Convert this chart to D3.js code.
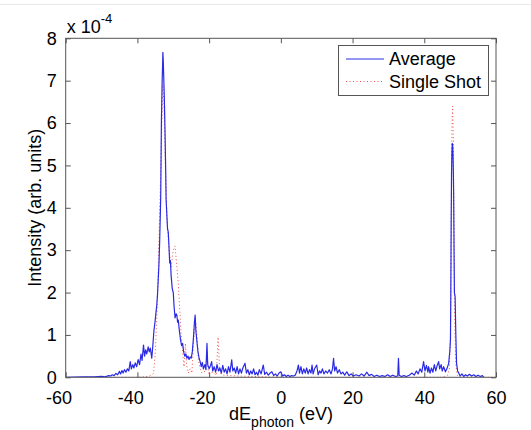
<!DOCTYPE html>
<html>
<head>
<meta charset="utf-8">
<script src="https://cdn.jsdelivr.net/npm/d3@7"></script>
<style>
  body { margin: 0; background: #fff; }
  svg { display: block; font-family: Arial, "Liberation Sans", Helvetica, sans-serif; }
</style>
</head>
<body>
<svg id="chart" width="531" height="430"></svg>
<script>
// photon energy offset (eV) and intensity (x 1e-4, arb. units)
const avgE = [-60, -55, -52, -50, -49, -48, -47.5, -47, -46.5, -46, -45.5, -45, -44.7, -44.3, -44, -43.6, -43.2, -42.8, -42.4, -42, -41.7, -41.3, -41, -40.6, -40.2, -39.8, -39.4, -39, -38.7, -38.3, -38, -37.7, -37.4, -37, -36.7, -36.4, -36, -35.7, -35.4, -35.1, -34.8, -34.6, -34.4, -34.2, -34, -33.8, -33.6, -33.5, -33.4, -33.3, -33.1, -33, -32.9, -32.8, -32.7, -32.5, -32.3, -32.1, -32, -31.8, -31.6, -31.4, -31.2, -31, -30.8, -30.6, -30.3, -30, -29.8, -29.5, -29.2, -29, -28.8, -28.6, -28.3, -28, -27.7, -27.4, -27.1, -26.8, -26.5, -26.2, -25.9, -25.6, -25.3, -25, -24.7, -24.4, -24.1, -23.9, -23.7, -23.4, -23.1, -22.8, -22.5, -22.2, -21.9, -21.6, -21.2, -20.9, -20.6, -20.4, -20, -19.6, -19.3, -19, -18.6, -18.2, -17.8, -17.4, -17, -16.6, -16.2, -15.8, -15.4, -15, -14.6, -14.2, -13.7, -13.4, -13, -12.6, -12.2, -11.8, -11.4, -11, -10.6, -10, -9.6, -9.2, -8.8, -8.4, -8, -7.6, -7.2, -6.8, -6.4, -6, -5.5, -4.9, -4.5, -4, -3.5, -3, -2.5, -2, -1.5, -1, -0.5, 0, 0.5, 1, 1.5, 2, 2.5, 3, 3.5, 4, 4.5, 4.9, 5.2, 5.6, 6, 6.4, 6.8, 7.2, 7.6, 8, 8.4, 8.7, 9, 9.4, 10, 10.4, 10.8, 11.2, 11.6, 12, 12.5, 13, 13.5, 14, 14.4, 14.7, 15, 15.4, 15.8, 16.3, 16.8, 17.3, 17.8, 18.4, 19, 19.6, 20.2, 21, 21.8, 22.5, 23.2, 24, 24.6, 25.3, 26, 26.8, 27.5, 28.3, 29, 29.8, 30.5, 31.2, 32, 32.6, 32.8, 33, 33.6, 34.3, 35, 35.8, 36.6, 37.2, 37.8, 38.3, 38.8, 39.3, 39.8, 40.2, 40.6, 41, 41.2, 41.6, 42, 42.4, 42.8, 43.2, 43.6, 44, 44.3, 44.7, 45, 45.4, 45.9, 46.3, 46.8, 47.1, 47.3, 47.4, 47.5, 47.6, 47.7, 47.8, 47.9, 48, 48.1, 48.2, 48.3, 48.4, 48.6, 48.8, 49, 49.3, 49.6, 50, 50.5, 51, 51.5, 52, 52.6, 53.2, 53.8, 54.4, 55, 55.6, 56.2, 56.6];
const avgI = [0, 0.01, 0.01, 0.02, 0.01, 0.04, 0.03, 0.06, 0.04, 0.09, 0.06, 0.14, 0.08, 0.16, 0.1, 0.18, 0.12, 0.2, 0.15, 0.37, 0.2, 0.3, 0.22, 0.34, 0.25, 0.42, 0.3, 0.55, 0.4, 0.76, 0.5, 0.65, 0.55, 0.72, 0.6, 0.69, 0.45, 0.75, 1.1, 1.3, 1.55, 1.7, 1.95, 2.3, 2.65, 3.2, 3.9, 4.3, 5.2, 6.1, 7.0, 7.3, 7.67, 7.5, 7.2, 6.6, 5.8, 4.8, 4.2, 3.85, 3.5, 3.43, 3.1, 2.7, 2.75, 2.4, 2.1, 2.0, 1.7, 1.4, 1.5, 1.47, 1.3, 1.35, 1.1, 0.9, 0.75, 0.8, 0.6, 0.5, 0.55, 0.45, 0.5, 0.42, 0.48, 0.45, 0.6, 0.9, 1.3, 1.47, 1.1, 0.84, 0.6, 0.45, 0.37, 0.25, 0.35, 0.2, 0.3, 0.18, 0.8, 0.3, 0.2, 0.28, 0.37, 0.15, 0.25, 0.12, 0.3, 0.15, 0.22, 0.1, 0.28, 0.12, 0.2, 0.08, 0.25, 0.12, 0.41, 0.15, 0.22, 0.1, 0.25, 0.08, 0.2, 0.1, 0.22, 0.33, 0.1, 0.18, 0.06, 0.15, 0.08, 0.2, 0.06, 0.12, 0.05, 0.18, 0.08, 0.29, 0.07, 0.12, 0.05, 0.1, 0.13, 0.04, 0.08, 0.03, 0.1, 0.13, 0.03, 0.06, 0.02, 0.05, 0.02, 0.04, 0.03, 0.05, 0.15, 0.29, 0.1, 0.25, 0.08, 0.2, 0.1, 0.22, 0.08, 0.18, 0.1, 0.29, 0.08, 0.2, 0.29, 0.06, 0.15, 0.1, 0.2, 0.08, 0.15, 0.1, 0.18, 0.08, 0.2, 0.45, 0.15, 0.25, 0.1, 0.18, 0.08, 0.12, 0.05, 0.13, 0.04, 0.08, 0.03, 0.06, 0.03, 0.08, 0.03, 0.12, 0.04, 0.07, 0.02, 0.05, 0.02, 0.04, 0.02, 0.06, 0.02, 0.05, 0.02, 0.03, 0.45, 0.05, 0.02, 0.04, 0.02, 0.05, 0.1, 0.05, 0.15, 0.08, 0.2, 0.12, 0.37, 0.15, 0.28, 0.12, 0.25, 0.1, 0.22, 0.12, 0.3, 0.15, 0.28, 0.37, 0.2, 0.3, 0.15, 0.25, 0.13, 0.2, 0.33, 0.6, 0.88, 2.0, 3.6, 4.8, 5.3, 5.52, 5.5, 5.3, 4.9, 4.2, 3.0, 2.0, 1.9, 1.0, 0.33, 0.15, 0.1, 0.03, 0.08, 0.02, 0.06, 0.03, 0.07, 0.03, 0.06, 0.02, 0.05, 0.02, 0.04, 0];

const shotE = [-60, -40, -37, -36, -35.5, -35, -34.6, -34.3, -34, -33.6, -33.2, -32.9, -32.6, -32.2, -31.8, -31.2, -30.6, -30, -29.5, -29, -28.6, -28.2, -27.8, -27.3, -27, -26.6, -26.3, -25.8, -25.3, -24.8, -24.3, -23.9, -23.5, -23, -22.5, -22, -21, -20.6, -20.2, -19, -18, -17.5, -17, -16, -12, 0, 45, 46.5, 47, 47.3, 47.5, 47.7, 47.9, 48.1, 48.3, 48.5, 48.8, 49.2, 50, 60];
const shotI = [0, 0, 0.02, 0.05, 0.1, 0.6, 1.4, 2.2, 3.2, 4.5, 6.0, 6.9, 6.5, 5.0, 3.8, 3.0, 2.6, 3.0, 3.1, 2.6, 2.2, 1.6, 1.0, 0.5, 0.25, 0.8, 0.3, 0.1, 0.2, 0.1, 0.9, 1.4, 1.1, 0.4, 0.2, 0.1, 0.15, 0.6, 0.1, 0.12, 0.05, 0.95, 0.1, 0.05, 0.03, 0, 0, 0.05, 0.2, 1.0, 3.5, 5.8, 6.4, 5.6, 3.5, 1.2, 0.3, 0.05, 0, 0];

const xTicks = [-60, -40, -20, 0, 20, 40, 60];
const yTicks = [0, 1, 2, 3, 4, 5, 6, 7, 8];
const seriesNames = ['Average', 'Single Shot'];

const svg = d3.select('#chart');
const pLeft = 65.7, pRight = 496, pTop = 38.3, pBottom = 377.3;
const axisColor = '#555';

const x = d3.scaleLinear().domain([-60, 60]).range([pLeft, pRight]);
const y = d3.scaleLinear().domain([0, 8]).range([pBottom, pTop]);

// faint page border at the top
svg.append('line').attr('x1', 0).attr('x2', 531).attr('y1', 4.5).attr('y2', 4.5)
  .attr('stroke', '#e8e8e8').attr('stroke-width', 1);

svg.append('clipPath').attr('id', 'clip').append('rect')
  .attr('x', pLeft).attr('y', pTop).attr('width', pRight - pLeft).attr('height', pBottom - pTop);

const line = d3.line().x(d => x(d[0])).y(d => y(d[1]));

svg.append('path')
  .datum(shotE.map((e, i) => [e, shotI[i]]))
  .attr('clip-path', 'url(#clip)')
  .attr('fill', 'none')
  .attr('stroke', '#f0504a')
  .attr('stroke-width', 1)
  .attr('stroke-dasharray', '1,2.5')
  .attr('d', line);

svg.append('path')
  .datum(avgE.map((e, i) => [e, avgI[i]]))
  .attr('clip-path', 'url(#clip)')
  .attr('fill', 'none')
  .attr('stroke', '#2a2ae6')
  .attr('stroke-width', 1.2)
  .attr('stroke-linejoin', 'round')
  .attr('d', line);

// axes
const fmtText = g => g.selectAll('text').attr('fill', '#000').style('font-size', '18px');

const gx = svg.append('g').attr('transform', `translate(0,${pBottom})`)
  .call(d3.axisBottom(x).tickValues(xTicks).tickSize(-5).tickPadding(10).tickFormat(d => String(d)));
gx.call(fmtText);
gx.selectAll('text').attr('dx', d => d < 0 ? '-0.4em' : 0).attr('dy', '0.95em');

const gxt = svg.append('g').attr('transform', `translate(0,${pTop})`)
  .call(d3.axisTop(x).tickValues(xTicks).tickSize(-5).tickFormat(''));

const gy = svg.append('g').attr('transform', `translate(${pLeft},0)`)
  .call(d3.axisLeft(y).tickValues(yTicks).tickSize(-5).tickPadding(9).tickFormat(d => String(d)));
gy.call(fmtText);

const gyr = svg.append('g').attr('transform', `translate(${pRight},0)`)
  .call(d3.axisRight(y).tickValues(yTicks).tickSize(-5).tickFormat(''));

[gx, gxt, gy, gyr].forEach(g => {
  g.select('.domain').remove();
  g.selectAll('line').attr('stroke', axisColor);
});

svg.append('rect')
  .attr('x', pLeft).attr('y', pTop).attr('width', pRight - pLeft).attr('height', pBottom - pTop)
  .attr('fill', 'none').attr('stroke', axisColor).attr('stroke-width', 1);

// exponent label
const ex = svg.append('text').attr('x', pLeft + 1).attr('y', 33).style('font-size', '18px');
ex.append('tspan').text('x 10');
ex.append('tspan').attr('dy', -10).style('font-size', '13px').text('-4');

// axis titles
svg.append('text')
  .attr('transform', `translate(41,${(pTop + pBottom) / 2}) rotate(-90)`)
  .attr('text-anchor', 'middle')
  .style('font-size', '18px')
  .text('Intensity (arb. units)');

const xl = svg.append('text').attr('x', 281).attr('y', 420)
  .attr('text-anchor', 'middle').style('font-size', '18px');
xl.append('tspan').text('dE');
xl.append('tspan').attr('dy', 7).style('font-size', '14px').text('photon');
xl.append('tspan').attr('dy', -7).text(' (eV)');

// legend
const lg = svg.append('g');
lg.append('rect').attr('x', 338.5).attr('y', 45.5).attr('width', 150).attr('height', 50)
  .attr('fill', '#fff').attr('stroke', axisColor).attr('stroke-width', 1);
const legStyles = [
  { color: '#2a2ae6', dash: null },
  { color: '#f0504a', dash: '1,2.5' }
];
seriesNames.forEach((name, i) => {
  const yy = 59 + i * 22.5;
  lg.append('line').attr('x1', 346).attr('x2', 384).attr('y1', yy).attr('y2', yy)
    .attr('stroke', legStyles[i].color).attr('stroke-width', 1)
    .attr('stroke-dasharray', legStyles[i].dash);
  lg.append('text').attr('x', 389).attr('y', yy + 6).style('font-size', '18px').text(name);
});
</script>
</body>
</html>
